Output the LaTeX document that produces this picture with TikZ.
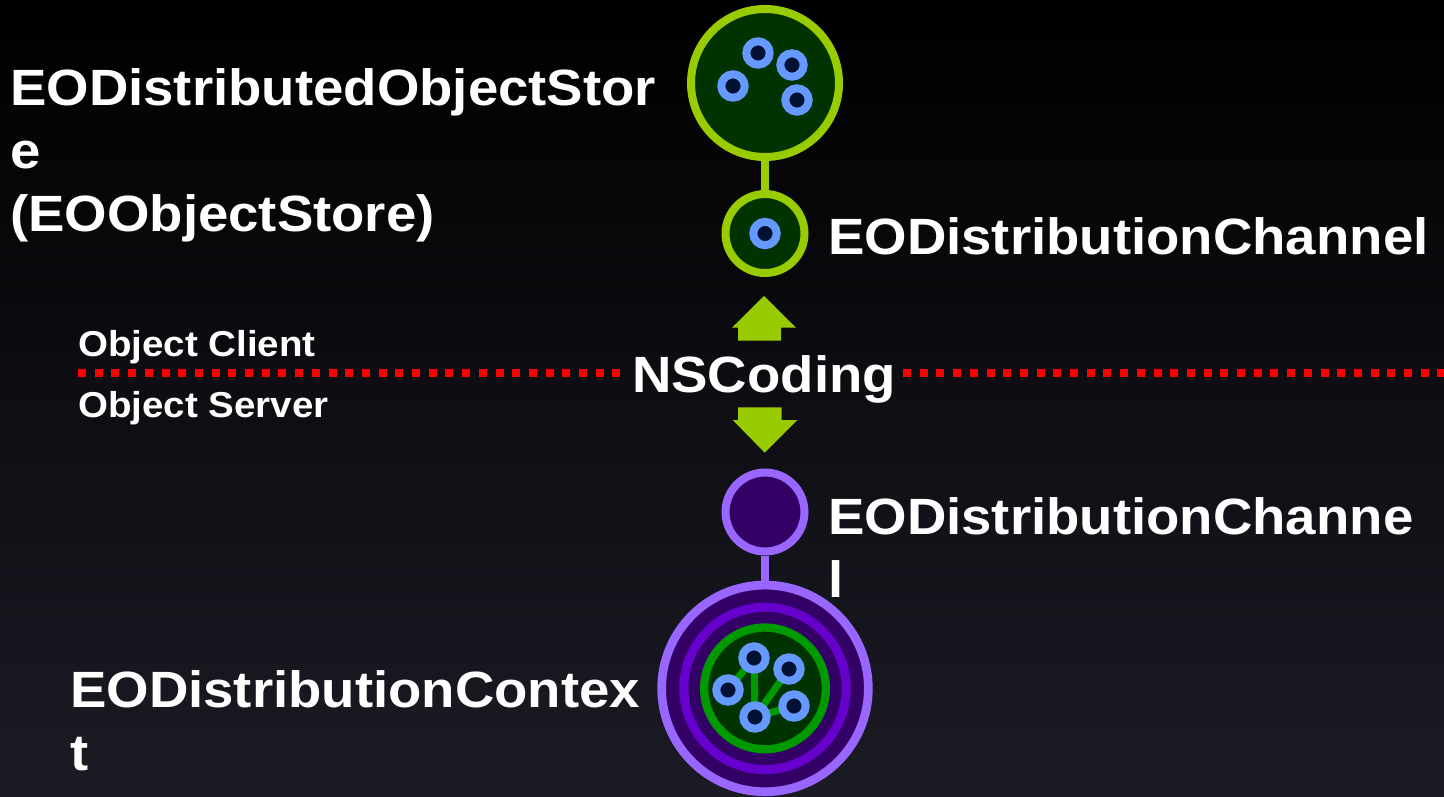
\documentclass[tikz,border=0pt]{standalone}
\usepackage{fontspec}
\setmainfont{Liberation Sans}
\newfontfamily\etichetta[FakeStretch=1.07]{Liberation Sans}
\usepackage{tikz}
\usetikzlibrary{positioning}
\definecolor{fondo}{HTML}{1B1B25}
\definecolor{verdelime}{HTML}{99CC00}
\definecolor{verdescuro}{HTML}{003300}
\definecolor{verdefoglia}{HTML}{009900}
\definecolor{puntoblu}{HTML}{6699FF}
\definecolor{puntoscuro}{HTML}{001133}
\definecolor{lilla}{HTML}{9966FF}
\definecolor{prugna}{HTML}{330066}
\definecolor{viola}{HTML}{6600CC}
\definecolor{rosso}{HTML}{FF0000}

\begin{document}
\begin{tikzpicture}[x=1pt, y=-1pt,
    anello/.style={circle, inner sep=0pt, line width=8pt},
    pallino/.style={circle, inner sep=0pt, minimum size=23.4pt, draw=puntoblu, fill=puntoscuro, line width=8pt},
    titolo/.style={text=white, font=\etichetta\bfseries\fontsize{51}{63}\selectfont, align=left, inner sep=0pt, anchor=base west},
    lato/.style={text=white, font=\etichetta\bfseries\fontsize{36}{42}\selectfont, inner sep=0pt, anchor=base west}]
  % sfondo (1 unita' = 1 pixel del riferimento)
  \shade[top color=black, bottom color=fondo] (0,0) rectangle (1444,796);
  \useasboundingbox (0,0) rectangle (1444,796);

  % linea di separazione client / server
  \node[text=white, font=\etichetta\bfseries\fontsize{51}{62}\selectfont, inner xsep=7pt, inner ysep=0pt, anchor=base] (coding) at (764,392) {NSCoding};
  \coordinate (sepL) at (78,372.5);
  \coordinate (sepR) at (1444,372.5);
  \draw[rosso, line width=8pt, dash pattern=on 8pt off 8.7pt] (sepL) -- (sepL -| coding.west);
  \draw[rosso, line width=8pt, dash pattern=on 8pt off 8.7pt] (coding.east |- sepR) -- (sepR);
  \node[lato] (clientLbl) at (78,356) {Object Client};
  \node[lato] (serverLbl) at (78,417) {Object Server};

  % frecce verso i due canali
  \fill[verdelime] (732,327.7) -- (764,296) -- (796,327.7) -- (781,327.7) -- (781,340.7) -- (738,340.7) -- (738,327.7) -- cycle;
  \fill[verdelime] (732.7,420) -- (764.7,452.7) -- (797.3,420) -- (781.7,420) -- (781.7,407.3) -- (738,407.3) -- (738,420) -- cycle;

  % lato client: object store e canale
  \node[anello, draw=verdelime, fill=verdescuro, minimum size=148pt] (store) at (765,83) {};
  \node[anello, draw=verdelime, fill=verdescuro, minimum size=79pt] (chanUp) at (765,233.5) {};
  \draw[verdelime, line width=8pt] (store) -- (chanUp);
  \foreach \px/\py [count=\i] in {758/53, 792/65, 733/86, 797/100}{
    \node[pallino] (storeDot\i) at (\px,\py) {};
  }
  \node[pallino] (chanUpDot) at (chanUp) {};

  % lato server: canale e contesto
  \node[anello, draw=lilla, fill=prugna, minimum size=79pt] (chanDown) at (765,512) {};
  \node[anello, draw=lilla, fill=prugna, minimum size=206.7pt, line width=8.7pt] (context) at (765,688.4) {};
  \draw[lilla, line width=8pt] (chanDown) -- (context);
  \node[anello, draw=viola, minimum size=162.4pt, line width=9pt] (ctxRing) at (context) {};
  \node[anello, draw=verdefoglia, fill=verdescuro, minimum size=121.7pt, line width=8.3pt] (ctxCore) at (context) {};
  \foreach \px/\py [count=\i] in {754/658, 789/669, 728/690, 794/706, 755/717}{
    \coordinate (c\i) at (\px,\py);
  }
  \draw[verdefoglia, line width=7pt] (c3) -- (c1) -- (c5) -- (c2) (c5) -- (c4);
  \foreach \i in {1,...,5}{ \node[pallino] (ctxDot\i) at (c\i) {}; }

  % etichette (ancora sulla base dell'ultima riga)
  \node[titolo] (storeLbl) at (10,231) {EODistributedObjectStor\\e\\(EOObjectStore)};
  \node[titolo] (chanUpLbl) at (828,254) {EODistributionChannel};
  \node[titolo] (chanDownLbl) at (828,597) {EODistributionChanne\\l};
  \node[titolo] (contextLbl) at (70,770) {EODistributionContex\\t};
\end{tikzpicture}
\end{document}
